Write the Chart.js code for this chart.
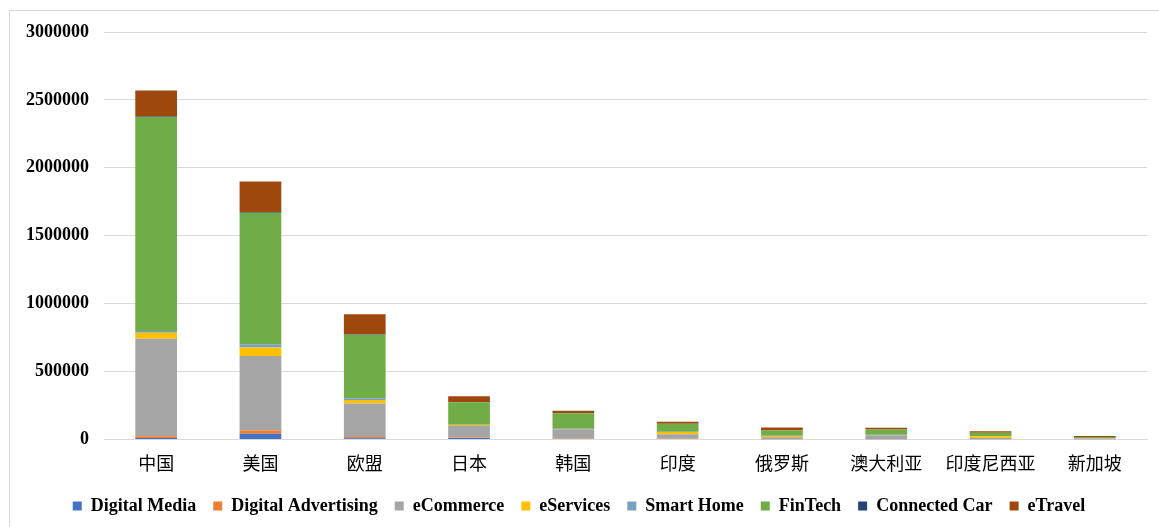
<!DOCTYPE html>
<html>
<head>
<meta charset="utf-8">
<script src="https://cdn.jsdelivr.net/npm/chart.js@4.4.0/dist/chart.umd.min.js"></script>
<style>
  body { margin: 0; background: #fff; }
  #frame { position: absolute; left: 9px; top: 10px; width: 1160px; height: 530px; border: 1px solid #d9d9d9; }
  #wrap { position: absolute; left: 0; top: 0; width: 1159px; height: 527px; }
</style>
</head>
<body>
<div id="frame"></div>
<div id="wrap"><canvas id="barChart"></canvas></div>
<script>
const categories = ['中国', '美国', '欧盟', '日本', '韩国', '印度', '俄罗斯', '澳大利亚', '印度尼西亚', '新加坡'];

const digitalMedia = [11000, 42000, 8000, 10000, 3000, 3000, 2000, 2000, 2000, 1000];
const digitalAdvertising = [12000, 25000, 10000, 4000, 2000, 2000, 1000, 1000, 1000, 500];
const eCommerce = [719000, 547000, 246000, 84000, 70000, 33000, 12000, 27000, 8000, 5000];
const eServices = [44000, 62000, 27000, 8000, 2000, 17000, 10000, 3000, 12000, 2000];
const smartHome = [12000, 25000, 12000, 3000, 1000, 1000, 1000, 1000, 500, 500];
const finTech = [1576000, 968000, 468000, 165000, 115000, 59000, 39000, 39000, 25000, 9000];
const connectedCar = [3000, 6000, 3000, 1000, 500, 500, 500, 500, 200, 200];
const eTravel = [192000, 225000, 148000, 42000, 17000, 15000, 22000, 12000, 12000, 7000];

const serif = '"Liberation Serif", "Times New Roman", "Noto Sans CJK SC", serif';

const barPlot = () => {
  var ctx = document.getElementById('barChart').getContext('2d');

  var series = [
    ['Digital Media', digitalMedia, '#4472C4'],
    ['Digital Advertising', digitalAdvertising, '#ED7D31'],
    ['eCommerce', eCommerce, '#A5A5A5'],
    ['eServices', eServices, '#FFC000'],
    ['Smart Home', smartHome, '#7A9FC0'],
    ['FinTech', finTech, '#70AD47'],
    ['Connected Car', connectedCar, '#264478'],
    ['eTravel', eTravel, '#9E480E']
  ];

  new Chart(ctx, {
    type: 'bar',
    data: {
      labels: categories,
      datasets: series.map(s => ({
        label: s[0],
        data: s[1],
        backgroundColor: s[2],
        barPercentage: 0.4,
        categoryPercentage: 1
      }))
    },
    options: {
      responsive: true,
      maintainAspectRatio: false,
      animation: false,
      layout: { padding: { top: 32, right: 12, left: 11, bottom: 2 } },
      plugins: {
        tooltip: { enabled: false },
        legend: {
          position: 'bottom',
          labels: {
            boxWidth: 9,
            boxHeight: 9,
            padding: 17,
            color: '#000',
            font: { family: serif, size: 18, weight: 'bold' }
          }
        }
      },
      scales: {
        x: {
          stacked: true,
          grid: { display: false, drawTicks: false },
          border: { color: '#d9d9d9' },
          ticks: {
            color: '#000',
            padding: 13,
            font: { family: '"Noto Sans CJK SC", serif', size: 18 }
          },
          // pull the axis back so labels sit lower without moving the baseline
          afterFit: s => { s.height -= 7; }
        },
        y: {
          stacked: true,
          min: 0,
          max: 3000000,
          grid: { color: '#d9d9d9', drawTicks: false },
          border: { display: false },
          ticks: {
            stepSize: 500000,
            color: '#000',
            padding: 15,
            font: { family: serif, size: 18, weight: 'bold' },
            callback: v => String(v)
          }
        }
      }
    }
  });
}

barPlot();
</script>
</body>
</html>
